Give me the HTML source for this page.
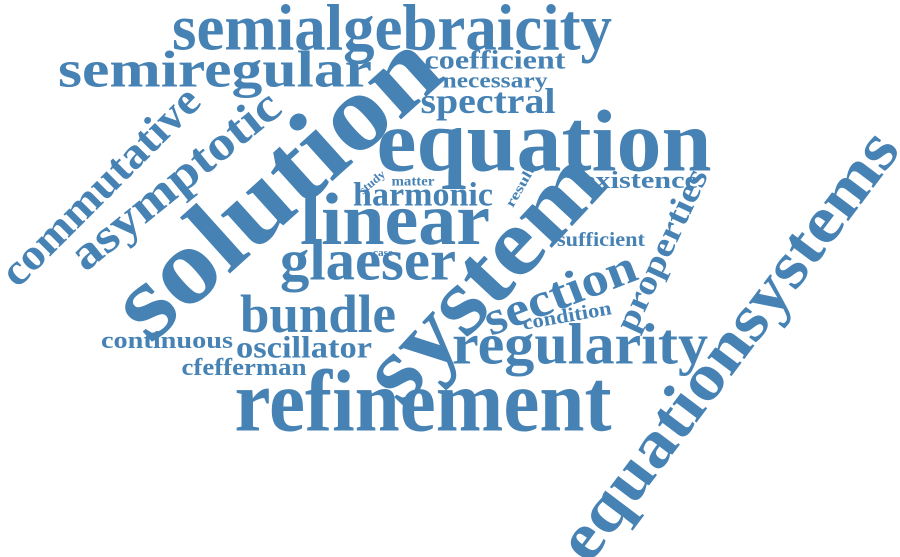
<!DOCTYPE html>
<html><head><meta charset="utf-8"><style>
html,body{margin:0;padding:0;background:#fff;}
svg{display:block;}
text{font-family:"Liberation Serif",serif;font-weight:bold;fill:#4682b4;}
</style></head><body>
<svg id="cloud" width="900" height="557" viewBox="0 0 900 557" xmlns="http://www.w3.org/2000/svg"></svg>
<script>
const words = ["semialgebraicity","semiregular","coefficient","necessary","spectral","equation","solution","system","equationsystems","commutative","asymptotic","linear","harmonic","study","matter","result","existence","properties","sufficient","case","glaeser","section","condition","bundle","continuous","oscillator","regularity","cfefferman","refinement"];
const sizes = [66,52,26,22,36,88,108,96,66,44,48,74,34,12,14,14,24,34,20,11,58,48,20,54,24,31,58,24,88];
// layout: center x, center y, text length, rotation
const layout = [
[392,28,440,0],[215,70,314,0],[495,60,141,0],[495,80,105,0],[488,101,135,0],
[544,142,335,0],[275,185,400,-42],[482,275,305,-47],[728,345,520,-53],
[100,186,262,-45],[175,180,256,-39],[395,220,190,0],[423,195,140,0],
[372,182,30,-40],[413,182,43,0],[521,187,45,-60],[640,181,116,0],
[662,250,175,-65],[601,240,88,0],[383,253,20,0],[368,260,176,0],
[560,293,160,-21],[567,316,90,-10],[318,314,156,0],[167,341,132,0],
[304,347,136,0],[580,344,256,0],[244,368,125,0],[423,402,377,0]];
const svg = document.getElementById('cloud');
const NS = "http://www.w3.org/2000/svg";
words.forEach((w,i)=>{
  const [cx,cy,len,rot] = layout[i];
  const t = document.createElementNS(NS,'text');
  
  
  t.setAttribute('x', cx);
  t.setAttribute('y', cy);
  t.setAttribute('font-size', sizes[i]);
  t.setAttribute('text-anchor', 'middle');
  t.setAttribute('dominant-baseline', 'central');
  t.setAttribute('textLength', len);
  t.setAttribute('lengthAdjust', 'spacingAndGlyphs');
  if (rot) t.setAttribute('transform', `rotate(${rot} ${cx} ${cy})`);
  t.textContent = w;
  svg.appendChild(t);
});
</script>
</body></html>
